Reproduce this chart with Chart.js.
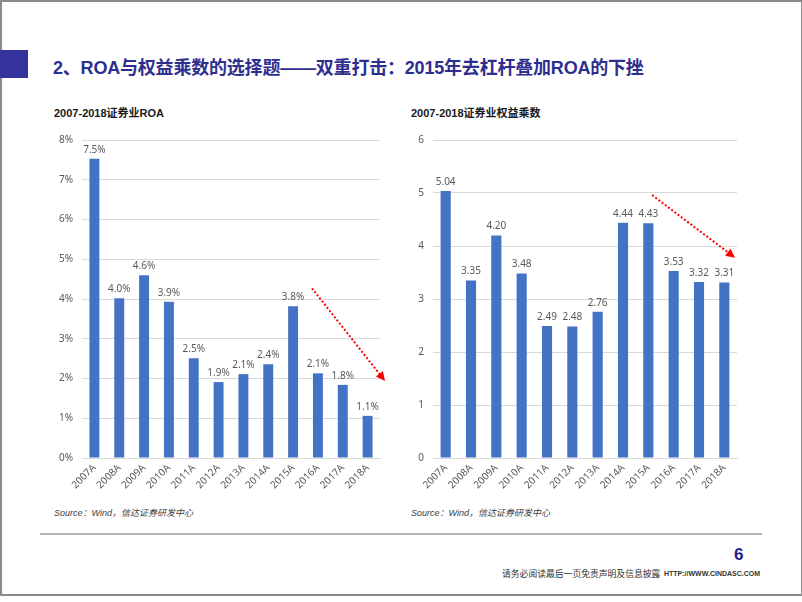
<!DOCTYPE html>
<html>
<head>
<meta charset="utf-8">
<script src="https://cdn.jsdelivr.net/npm/chart.js@4/dist/chart.umd.min.js"></script>
<style>
  html, body { margin: 0; padding: 0; background: #fff; }
  body { width: 802px; height: 602px; position: relative; overflow: hidden;
         font-family: "Liberation Sans", "Noto Sans CJK SC", sans-serif; }
  .frame { position: absolute; left: 0; top: 0; width: 799px; height: 592px;
           border: 2px solid #8c8c8c; box-sizing: content-box; }
  .mark { position: absolute; left: 0; top: 50px; width: 28px; height: 28px; background: #33339b; }
  .title { position: absolute; left: 53px; top: 53px; font-size: 18px; font-weight: bold;
           color: #2e2e8f; white-space: nowrap; letter-spacing: -0.2px; }
  .ctitle { position: absolute; top: 104px; font-size: 11px; font-weight: bold; color: #1a1a1a; }
  .source { position: absolute; top: 506px; font-size: 9px; font-style: italic; color: #404040; }
  .box { position: absolute; top: 125px; width: 350px; height: 380px; }
  .rule { position: absolute; left: 40px; top: 533px; width: 722px; height: 2px; background: #b4b4b4; }
  .page { position: absolute; left: 734px; top: 545px; font-size: 17px; font-weight: bold; color: #1f1f8a; }
  .foot { position: absolute; left: 502px; top: 567px; font-size: 8.8px; color: #333;
          font-family: "Noto Sans CJK SC", sans-serif; white-space: nowrap; }
  .url { position: absolute; left: 664px; top: 570px; font-size: 7px; font-weight: bold; color: #333; }
</style>
</head>
<body>
<div class="frame"></div>
<div class="mark"></div>
<div class="title">2、ROA与权益乘数的选择题——双重打击：2015年去杠杆叠加ROA的下挫</div>

<div class="ctitle" style="left:54px">2007-2018证券业ROA</div>
<div class="ctitle" style="left:411px">2007-2018证券业权益乘数</div>

<div class="box" style="left:40px"><canvas id="roa"></canvas></div>
<div class="box" style="left:395px"><canvas id="mult"></canvas></div>

<div class="source" style="left:54px">Source：Wind，信达证券研发中心</div>
<div class="source" style="left:411px">Source：Wind，信达证券研发中心</div>

<div class="rule"></div>
<div class="page">6</div>
<div class="foot">请务必阅读最后一页免责声明及信息披露</div>
<div class="url">HTTP://WWW.CINDASC.COM</div>

<script>
// categories
var years = ["2007A", "2008A", "2009A", "2010A", "2011A", "2012A",
             "2013A", "2014A", "2015A", "2016A", "2017A", "2018A"];
// ROA, %
var roaValues = [7.53, 4.02, 4.60, 3.93, 2.51, 1.91, 2.11, 2.36, 3.82, 2.13, 1.84, 1.06];
// equity multiplier
var multValues = [5.04, 3.35, 4.20, 3.48, 2.49, 2.48, 2.76, 4.44, 4.43, 3.53, 3.32, 3.31];

// trend arrows in data units [xIndexFrom, yFrom, xIndexTo, yTo]
var roaArrow = [8.76, 4.27, 11.7, 1.94];
var multArrow = [8.15, 4.96, 11.42, 3.78];

var BAR = "#4472c4";
var GRID = "#d9d9d9";
var TEXT = "#595959";
var FONT = "'Noto Sans', 'Open Sans', sans-serif";

// value labels above bars
var valueLabels = {
    id: "valueLabels",
    afterDatasetsDraw: function (chart, args, opts) {
        var ctx = chart.ctx;
        var meta = chart.getDatasetMeta(0);
        ctx.save();
        ctx.fillStyle = TEXT;
        ctx.font = "10px " + FONT;
        ctx.textAlign = "center";
        ctx.textBaseline = "bottom";
        meta.data.forEach(function (bar, i) {
            var v = chart.data.datasets[0].data[i];
            ctx.fillText(opts.fmt(v), bar.x, bar.y - 4);
        });
        ctx.restore();
    }
};

// red dotted arrow
var trendArrow = {
    id: "trendArrow",
    afterDraw: function (chart, args, opts) {
        var a = opts.pts;
        if (!a) return;
        var xs = chart.scales.x, ys = chart.scales.y;
        var x0 = xs.getPixelForValue(a[0]), y0 = ys.getPixelForValue(a[1]);
        var x1 = xs.getPixelForValue(a[2]), y1 = ys.getPixelForValue(a[3]);
        var ang = Math.atan2(y1 - y0, x1 - x0);
        var ctx = chart.ctx;
        ctx.save();
        ctx.strokeStyle = "#ff0000";
        ctx.fillStyle = "#ff0000";
        ctx.lineWidth = 2;
        ctx.setLineDash([2, 2]);
        ctx.beginPath();
        ctx.moveTo(x0, y0);
        ctx.lineTo(x1 - 6 * Math.cos(ang), y1 - 6 * Math.sin(ang));
        ctx.stroke();
        ctx.setLineDash([]);
        ctx.beginPath();
        ctx.moveTo(x1, y1);
        ctx.lineTo(x1 - 9 * Math.cos(ang) + 4.5 * Math.sin(ang), y1 - 9 * Math.sin(ang) - 4.5 * Math.cos(ang));
        ctx.lineTo(x1 - 9 * Math.cos(ang) - 4.5 * Math.sin(ang), y1 - 9 * Math.sin(ang) + 4.5 * Math.cos(ang));
        ctx.closePath();
        ctx.fill();
        ctx.restore();
    }
};

function makeChart(id, values, yMax, yAxisWidth, padRight, tickFmt, labelFmt, arrow) {
    return new Chart(document.getElementById(id), {
        type: "bar",
        data: {
            labels: years,
            datasets: [{
                data: values,
                backgroundColor: BAR,
                categoryPercentage: 1,
                barPercentage: 0.4
            }]
        },
        options: {
            responsive: true,
            maintainAspectRatio: false,
            animation: false,
            layout: { padding: { top: 11, right: padRight, bottom: 0, left: 0 } },
            plugins: {
                legend: { display: false },
                tooltip: { enabled: false },
                valueLabels: { fmt: labelFmt },
                trendArrow: { pts: arrow }
            },
            scales: {
                x: {
                    grid: { display: false, drawTicks: false },
                    border: { color: GRID, width: 1 },
                    ticks: {
                        color: TEXT, font: { size: 10, family: FONT },
                        minRotation: 45, maxRotation: 45, padding: 4
                    },
                    afterFit: function (s) { s.height = 47; }
                },
                y: {
                    min: 0, max: yMax,
                    grid: { color: GRID, drawTicks: false },
                    border: { display: false },
                    ticks: {
                        stepSize: 1, color: TEXT, font: { size: 10, family: FONT },
                        padding: 9, callback: tickFmt
                    },
                    afterFit: function (s) { s.width = yAxisWidth; }
                }
            }
        },
        plugins: [valueLabels, trendArrow]
    });
}

makeChart("roa", roaValues, 8, 42, 10,
    function (v) { return v + "%"; },
    function (v) { return v.toFixed(1) + "%"; },
    roaArrow);

makeChart("mult", multValues, 6, 38, 8,
    function (v) { return v; },
    function (v) { return v.toFixed(2); },
    multArrow);
</script>
</body>
</html>
